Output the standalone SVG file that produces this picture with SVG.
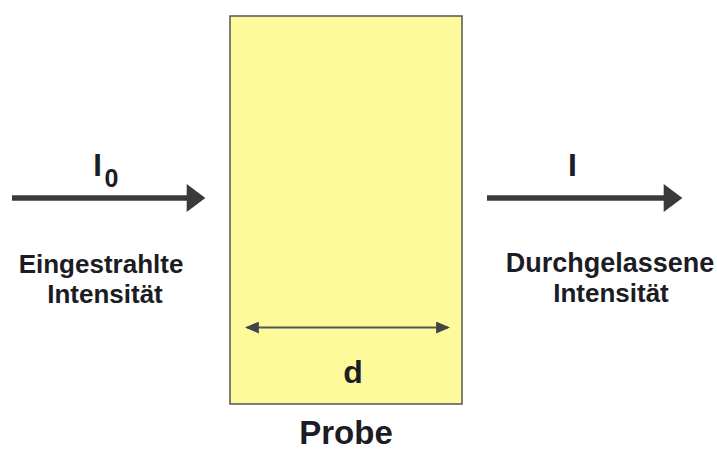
<svg xmlns="http://www.w3.org/2000/svg" width="717" height="451" viewBox="0 0 717 451">
<style>
.t{font-family:"Liberation Sans",Arial,sans-serif;font-weight:bold;fill:#1c1c24;text-anchor:middle}
.beam{stroke:#3a3a3a;stroke-width:5.5;fill:none}
.dim{stroke:#555;stroke-width:2;fill:none}
</style>
<defs>
<marker id="big" markerUnits="userSpaceOnUse" markerWidth="20" markerHeight="28" refX="8" refY="13.5" orient="auto" viewBox="0 0 18 27">
<path d="M0,0 L18,13.5 L0,27 z" fill="#3a3a3a"/>
</marker>
<marker id="small" markerUnits="userSpaceOnUse" markerWidth="14" markerHeight="12" refX="11" refY="5.5" orient="auto-start-reverse" viewBox="0 0 13 11">
<path d="M0,0 L13,5.5 L0,11 z" fill="#444"/>
</marker>
</defs>
<rect width="717" height="451" fill="#fff"/>
<g id="probe">
<rect x="230" y="16" width="232" height="388" fill="#FDFA9C" stroke="#555" stroke-width="1.5"/>
<text class="t" x="346" y="444" font-size="33">Probe</text>
</g>
<g id="connectors">
<line class="beam" x1="12" y1="198" x2="195" y2="198" marker-end="url(#big)"/>
<line class="beam" x1="487" y1="198" x2="672" y2="198" marker-end="url(#big)"/>
<line class="dim" x1="247" y1="327.5" x2="448" y2="327.5" marker-start="url(#small)" marker-end="url(#small)"/>
</g>
<g id="incoming">
<text class="t" x="97.5" y="176" font-size="31">I</text>
<text class="t" x="111.5" y="187" font-size="25">0</text>
<text class="t" x="101" y="273" font-size="26">Eingestrahlte</text>
<text class="t" x="105" y="303" font-size="26">Intensität</text>
</g>
<g id="outgoing">
<text class="t" x="572.5" y="176" font-size="32">I</text>
<text class="t" x="610" y="272" font-size="27">Durchgelassene</text>
<text class="t" x="611" y="302" font-size="26">Intensität</text>
</g>
<g id="thickness">
<text class="t" x="353" y="383" font-size="32">d</text>
</g>
</svg>
